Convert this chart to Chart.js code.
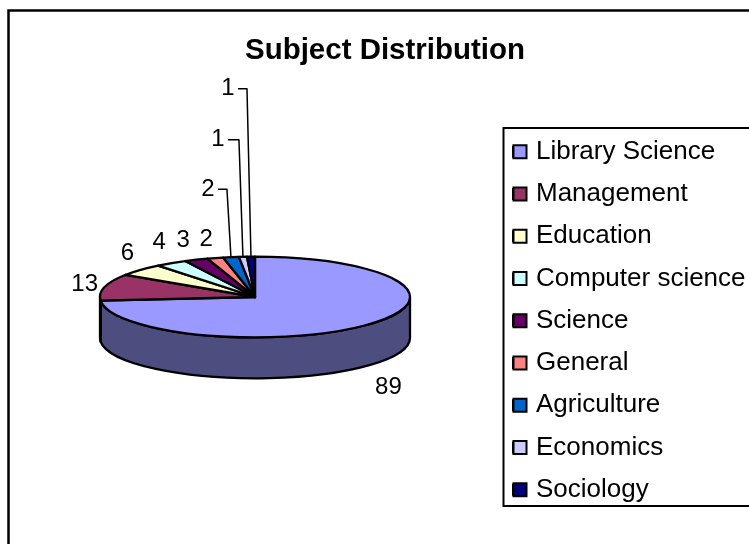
<!DOCTYPE html>
<html><head><meta charset="utf-8">
<style>html,body{margin:0;padding:0;background:#fff}#w{width:749px;height:544px}canvas{display:block}</style>
<script src="https://cdn.jsdelivr.net/npm/chart.js@4/dist/chart.umd.min.js"></script>
</head><body><div id="w"><canvas id="c" width="749" height="544"></canvas></div>
<script>
const categories = ['Library Science','Management','Education','Computer science','Science','General','Agriculture','Economics','Sociology'];
const values = [89,13,6,4,3,2,2,1,1];
const topColors = ['#9999FF','#993366','#FFFFCC','#CCFFFF','#660066','#FF8080','#0066CC','#CCCCFF','#000080'];
const sideColors = ['#4D4D80','#4D1A33','#808066','#668080','#330033','#804040','#003366','#666680','#000040'];
// label offsets from the slice's rim midpoint, in px
const labelDx = [19,-20,-13,-12,-13,-9,-23,-25,-23];
const labelDy = [63,-3,-16,-21,-19,-19,-68,-117,-168];
const hasLeader = [false,false,false,false,false,false,true,true,true];

const TILT = 0.26, DEPTH = 41, FONT = 'Liberation Sans, Arial, sans-serif';
const LEG_SIZE = 26, LEG_PAD = 16.25;

const pie3d = {
  id:'pie3d',
  afterLayout(chart){
    chart.chartArea = {left:99,right:411,top:141,bottom:453,width:312,height:312};
    const t = chart.titleBlock; t.left = 245; t.right = 525; t.top = 33; t.bottom = 72;
    const l = chart.legend; l.left = 513-LEG_PAD; l.right = 749; l.top = 122.5; l.bottom = 700;
  },
  beforeDraw(chart){
    const c = chart.ctx; c.save();
    c.fillStyle='#fff'; c.fillRect(0,0,749,544);
    c.strokeStyle='#000'; c.lineWidth=2.5;
    c.strokeRect(8.5,10.5,800,600);
    c.restore();
  },
  beforeDatasetsDraw(chart){
    const c = chart.ctx, arcs = chart.getDatasetMeta(0).data;
    const cx = arcs[0].x, cy = arcs[0].y, rx = arcs[0].outerRadius, ry = rx*TILT;
    c.save();
    c.lineWidth = 2.3; c.strokeStyle = '#000'; c.lineJoin='round';
    arcs.forEach((a,i)=>{
      const s = Math.max(a.startAngle,0), e = Math.min(a.endAngle,Math.PI);
      if (e<=s) return;
      c.beginPath();
      c.ellipse(cx,cy,rx,ry,0,s,e);
      c.ellipse(cx,cy+DEPTH,rx,ry,0,e,s,true);
      c.closePath();
      c.fillStyle = sideColors[i]; c.fill(); c.stroke();
    });
    arcs.forEach((a,i)=>{
      c.beginPath();
      c.moveTo(cx,cy);
      c.ellipse(cx,cy,rx,ry,0,a.startAngle,a.endAngle);
      c.closePath();
      c.fillStyle = topColors[i]; c.fill(); c.stroke();
    });
    // data labels
    c.font = '24px '+FONT; c.fillStyle='#000'; c.textAlign='center'; c.textBaseline='middle';
    arcs.forEach((a,i)=>{
      const m = (a.startAngle+a.endAngle)/2;
      const ex = cx+rx*Math.cos(m), ey = cy+ry*Math.sin(m);
      const lx = ex+labelDx[i], ly = ey+labelDy[i];
      c.fillText(String(values[i]),lx,ly);
      if (hasLeader[i]) {
        c.beginPath(); c.lineWidth=1.5;
        c.moveTo(lx+10,ly); c.lineTo(ex-4,ly); c.lineTo(ex,ey); c.stroke();
      }
    });
    c.restore();
    return false;
  },
  afterDraw(chart){
    const c = chart.ctx, l = chart.legend; c.save();
    c.strokeStyle='#000'; c.lineWidth=2;
    c.strokeRect(503.5,128,300,378);
    // widen the swatches; the text sits closer to them than the legend's built-in gap
    l.legendItems.forEach((it,i)=>{
      c.fillStyle = it.fillStyle;
      const yc = l.top + LEG_PAD + i*(LEG_SIZE+LEG_PAD) + LEG_SIZE/2;
      c.fillRect(513.5,yc-6.5,13,13); c.strokeRect(513.5,yc-6.5,13,13);
    });
    c.restore();
  }
};

new Chart(document.getElementById('c'),{
  type:'pie',
  data:{labels:categories,datasets:[{data:values,backgroundColor:topColors,borderColor:'#000',borderWidth:2}]},
  options:{
    responsive:false,animation:false,
    rotation:0,
    plugins:{
      title:{display:true,text:'Subject Distribution',color:'#000',font:{family:FONT,size:29.5,weight:'bold'},padding:0},
      legend:{position:'right',align:'start',
        labels:{color:'#000',font:{family:FONT,size:LEG_SIZE},boxWidth:10,boxHeight:10,padding:LEG_PAD}},
      tooltip:{enabled:false}
    }
  },
  plugins:[pie3d]
});
</script></body></html>
